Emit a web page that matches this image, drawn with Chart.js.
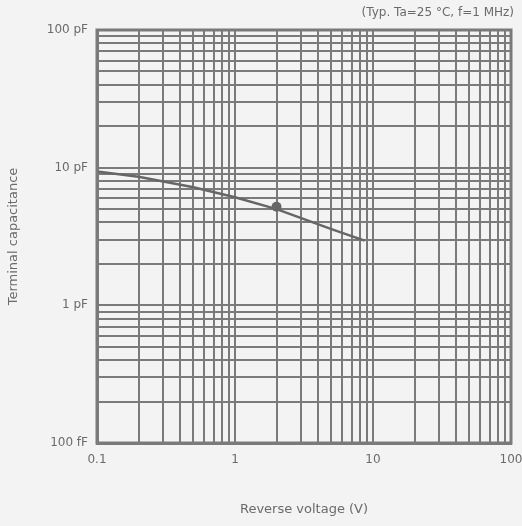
<!DOCTYPE html>
<html>
<head>
<meta charset="utf-8">
<script src="https://cdn.jsdelivr.net/npm/chart.js@4"></script>
<style>
  html, body { margin: 0; padding: 0; background: #f3f3f3; }
  #wrap { width: 522px; height: 526px; position: relative; }
</style>
</head>
<body>
<div id="wrap"><canvas id="cap"></canvas></div>
<script>
// Terminal capacitance vs reverse voltage (log-log), typical curve + measured point.

const voltage     = [0.1, 0.2, 0.5, 1, 2, 5, 8.7];
const capacitance = [9.4, 8.6, 7.2, 6.1, 5.0, 3.58, 2.95];
const markerV = [2];
const markerC = [5.2];

const xTickValues = [0.1, 1, 10, 100];
const xTickLabels = ['0.1', '1', '10', '100'];
const yTickValues = [0.1, 1, 10, 100];
const yTickLabels = ['100 fF', '1 pF', '10 pF', '100 pF'];
const minorSteps = [2, 3, 4, 5, 6, 7, 8, 9];

const INK = '#6a6a6a';
const GRID = '#7a7a7a';
const FONT = 'DejaVu Sans';

// Full 1-2-...-9 log grid between the first and last decade.
function logGrid(decades) {
  const out = [];
  decades.forEach((d, i) => {
    out.push(d);
    if (i < decades.length - 1) minorSteps.forEach(m => out.push(+(d * m).toPrecision(6)));
  });
  return out;
}

function labelFor(values, labels) {
  return v => {
    const i = values.findIndex(d => Math.abs(d - v) < 1e-9);
    return i >= 0 ? labels[i] : '';
  };
}

const frame = {
  id: 'frame',
  afterDraw(chart) {
    const { ctx, chartArea: a } = chart;
    ctx.save();
    ctx.strokeStyle = GRID;
    ctx.lineWidth = 3;
    ctx.strokeRect(a.left, a.top, a.right - a.left, a.bottom - a.top);
    ctx.fillStyle = INK;
    ctx.font = `12px "${FONT}"`;
    ctx.textAlign = 'right';
    ctx.textBaseline = 'middle';
    ctx.fillText('(Typ. Ta=25 °C, f=1 MHz)', 514, 13);
    ctx.restore();
  },
};

new Chart(document.getElementById('cap'), {
  type: 'scatter',
  data: {
    datasets: [
      {
        data: voltage.map((v, i) => ({ x: v, y: capacitance[i] })),
        showLine: true, borderColor: '#666', borderWidth: 2.5, pointRadius: 0, tension: 0,
      },
      {
        data: markerV.map((v, i) => ({ x: v, y: markerC[i] })),
        pointRadius: 5, pointBackgroundColor: '#666', pointBorderWidth: 0,
      },
    ],
  },
  options: {
    responsive: true, maintainAspectRatio: false, animation: false,
    layout: { padding: { top: 30, right: 0, left: 0, bottom: 0 } },
    plugins: { legend: { display: false }, tooltip: { enabled: false } },
    scales: {
      x: {
        type: 'logarithmic', min: 0.1, max: 100,
        afterBuildTicks: s => { s.ticks = logGrid(xTickValues).map(v => ({ value: v })); },
        afterFit: s => { s.height = 83; s.paddingRight = 11; s.paddingLeft = 0; },
        ticks: { autoSkip: false, maxRotation: 0, padding: 10, color: INK, font: { family: FONT, size: 12 },
                 callback: labelFor(xTickValues, xTickLabels) },
        grid: { color: GRID, lineWidth: 2, drawTicks: false },
        border: { color: GRID, width: 3 },
        title: { display: true, text: 'Reverse voltage (V)', color: INK, font: { family: FONT, size: 13 },
                 padding: { top: 0, bottom: 9 } },
      },
      y: {
        type: 'logarithmic', min: 0.1, max: 100,
        afterBuildTicks: s => { s.ticks = logGrid(yTickValues).map(v => ({ value: v })); },
        afterFit: s => { s.width = 97; },
        ticks: { autoSkip: false, padding: 9, color: INK, font: { family: FONT, size: 12 },
                 callback: labelFor(yTickValues, yTickLabels) },
        grid: { color: GRID, lineWidth: 2, drawTicks: false },
        border: { color: GRID, width: 3 },
        title: { display: true, text: 'Terminal capacitance', color: INK, font: { family: FONT, size: 13 },
                 padding: { top: 6, bottom: 0 } },
      },
    },
  },
  plugins: [frame],
});
</script>
</body>
</html>
